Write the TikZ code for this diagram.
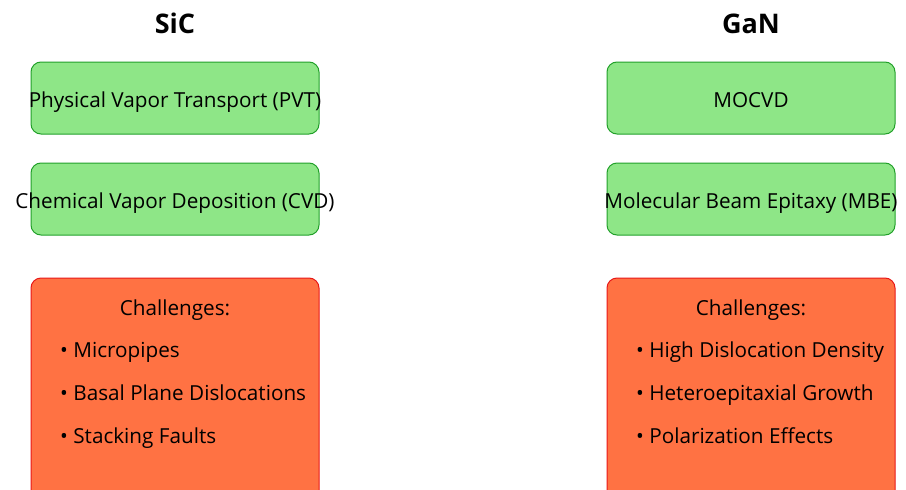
\documentclass[tikz,border=0pt]{standalone}
\usepackage{fontspec}
\setmainfont{Open Sans}
\begin{document}
\begin{tikzpicture}[x=1pt,y=-1pt,
  method/.style={draw=grnline, fill=grnfill, line width=1pt, rounded corners=10pt},
  chal/.style={draw=redline, fill=redfill, line width=1pt, rounded corners=10pt},
  lbl/.style={font=\fontsize{20.7}{24}\selectfont, inner sep=0pt, anchor=base},
  item/.style={lbl, anchor=base west},
  ttl/.style={font=\fontsize{27}{32}\selectfont\bfseries, inner sep=0pt, anchor=base}]
\definecolor{grnfill}{HTML}{8EE687}
\definecolor{grnline}{HTML}{22A02A}
\definecolor{redfill}{HTML}{FF7243}
\definecolor{redline}{HTML}{E81818}
\useasboundingbox (0,0) rectangle (906,490);
\clip (0,0) rectangle (906,490);
\node[ttl] (t1) at (175,33) {SiC};
\node[ttl] (t2) at (751,33) {GaN};
\draw[method] (31,62) rectangle (319,134);
\draw[method] (31,163) rectangle (319,235);
\draw[method] (607,62) rectangle (895,134);
\draw[method] (607,163) rectangle (895,235);
\node[lbl] (a1) at (175,107) {Physical Vapor Transport (PVT)};
\node[lbl] (a2) at (175,208) {Chemical Vapor Deposition (CVD)};
\node[lbl] (b1) at (751,107) {MOCVD};
\node[lbl] (b2) at (751,208) {Molecular Beam Epitaxy (MBE)};
\draw[chal] (31,278) rectangle (319,510);
\draw[chal] (607,278) rectangle (895,510);
\node[lbl] (c0) at (175,315) {Challenges:};
\node[item] (c1) at (60,357) {• Micropipes};
\node[item] (c2) at (60,400) {• Basal Plane Dislocations};
\node[item] (c3) at (60,443) {• Stacking Faults};
\node[lbl] (d0) at (751,315) {Challenges:};
\node[item] (d1) at (636,357) {• High Dislocation Density};
\node[item] (d2) at (636,400) {• Heteroepitaxial Growth};
\node[item] (d3) at (636,443) {• Polarization Effects};
\end{tikzpicture}
\end{document}
